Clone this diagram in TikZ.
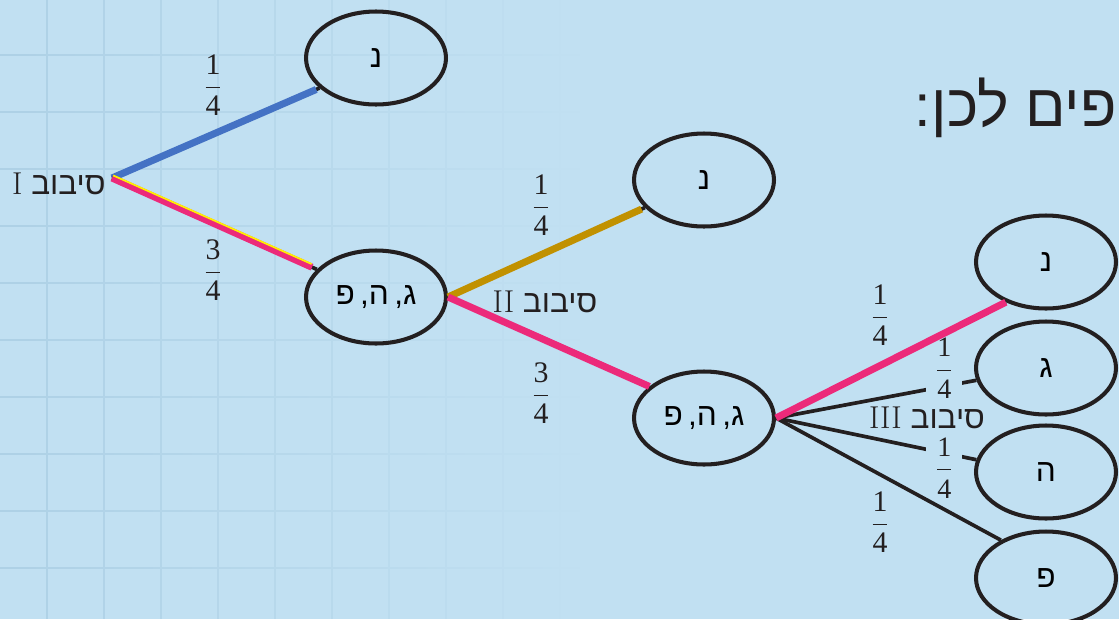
\documentclass[tikz,border=0pt]{standalone}
\usepackage{fontspec}
\usetikzlibrary{shapes.geometric, fadings}
\newfontfamily\hebfont[Script=Hebrew]{Liberation Sans}
\newfontfamily\digitfont{Liberation Serif}
\TeXXeTstate=1
\definecolor{PaperBlue}{RGB}{193,224,242}
\definecolor{GridBlue}{RGB}{174,209,230}
\definecolor{InkBlack}{RGB}{35,31,32}
\definecolor{EdgePink}{RGB}{236,42,122}
\definecolor{EdgeBlue}{RGB}{68,114,196}
\definecolor{EdgeGold}{RGB}{193,145,0}
\definecolor{EdgeYellow}{RGB}{255,240,0}
\tikzfading[name=gridfade, left color=transparent!0, middle color=transparent!15, right color=transparent!100]

\begin{document}
\begin{tikzpicture}[
  x=0.02cm, y=-0.02cm,
  state/.style={ellipse, draw=InkBlack, line width=2.3pt, minimum width=2.8cm, minimum height=1.86cm, inner sep=0pt, font=\hebfont\fontsize{18}{21}\selectfont},
  frac/.style={text=InkBlack, inner sep=1pt, font=\digitfont\fontsize{17}{20}\selectfont},
  gapfrac/.style={frac, fill=PaperBlue, inner xsep=0.18cm, inner ysep=0pt, font=\digitfont\fontsize{16}{19}\selectfont},
  round/.style={text=InkBlack, inner sep=0pt, font=\hebfont\fontsize{18}{21}\selectfont},
  edge/.style={draw=InkBlack, line width=2.1pt},
  blueedge/.style={draw=EdgeBlue, line width=4pt},
  pinkedge/.style={draw=EdgePink, line width=4pt},
  goldedge/.style={draw=EdgeGold, line width=4pt}
]
  % paper and faded grid
  \fill[PaperBlue] (0,0) rectangle (1119,619);
  \useasboundingbox (0,0) rectangle (1119,619);
  \draw[GridBlue, line width=1.3pt, path fading=gridfade]
    \foreach \gx in {47,104,...,560} {(\gx,0) -- (\gx,619)}
    \foreach \gy in {55,112,...,619} {(0,\gy) -- (580,\gy)};

  % heading, cut at the page edge
  \node[round, anchor=east, font=\hebfont\fontsize{34}{40}\selectfont] (head) at (1117,108) {\beginR פים לכן:\endR};

  % round I
  \coordinate (root) at (112,178);
  \node[round, anchor=east] (r1) at (106,184) {\beginR סיבוב {\rmfamily I}\endR};
  \node[state] (a1) at (376,58) {\beginR נ\endR};
  \node[state] (b1) at (376,297) {\beginR ג,\,ה,\,פ\endR};

  % round II
  \node[state] (a2) at (704,180) {\beginR נ\endR};
  \node[state] (b2) at (704,418) {\beginR ג,\,ה,\,פ\endR};
  \node[round] (r2) at (545,302) {\beginR סיבוב {\rmfamily II}\endR};

  % round III
  \node[state] (c1) at (1046,262) {\beginR נ\endR};
  \node[state] (c2) at (1046,368) {\beginR ג\endR};
  \node[state] (c3) at (1046,472) {\beginR ה\endR};
  \node[state] (c4) at (1046,578) {\beginR פ\endR};
  \node[round] (r3) at (927,418) {\beginR סיבוב {\rmfamily III}\endR};

  % branches
  \draw[edge] (root) -- (a1.208);
  \draw[blueedge, shorten >=2pt] (root) -- (a1.208);
  \draw[edge] (root) -- (b1.155);
  \draw[pinkedge, shorten >=3pt] (root) -- (b1.155);
  \draw[EdgeYellow, line width=1pt, shorten >=4pt, transform canvas={xshift=0.7pt, yshift=1.45pt}] (root) -- (b1.155);

  \draw[edge] (b1.east) -- (a2.205);
  \draw[goldedge, shorten >=2pt] (b1.east) -- (a2.205);
  \draw[pinkedge] (b1.east) -- (b2.150);

  \draw[edge] (b2.east) -- node[gapfrac, pos=0.84, yshift=0.36cm] (p5) {$\displaystyle\frac{\mbox{1}}{\mbox{4}}$} (c2.190);
  \draw[edge] (b2.east) -- node[gapfrac, pos=0.84, yshift=-0.3cm] (p6) {$\displaystyle\frac{\mbox{1}}{\mbox{4}}$} (c3.170);
  \draw[edge] (b2.east) -- (c4.140);
  \draw[edge] (b2.east) -- (c1.225);
  \draw[pinkedge] (b2.east) -- (c1.225);

  % probabilities
  \node[frac] (p1) at (213,85) {$\displaystyle\frac{\mbox{1}}{\mbox{4}}$};
  \node[frac] (p2) at (213,270) {$\displaystyle\frac{\mbox{3}}{\mbox{4}}$};
  \node[frac] (p3) at (541,205) {$\displaystyle\frac{\mbox{1}}{\mbox{4}}$};
  \node[frac] (p4) at (541,393) {$\displaystyle\frac{\mbox{3}}{\mbox{4}}$};
  \node[frac] (p7) at (880,315) {$\displaystyle\frac{\mbox{1}}{\mbox{4}}$};
  \node[frac] (p8) at (880,522) {$\displaystyle\frac{\mbox{1}}{\mbox{4}}$};
\end{tikzpicture}
\end{document}
